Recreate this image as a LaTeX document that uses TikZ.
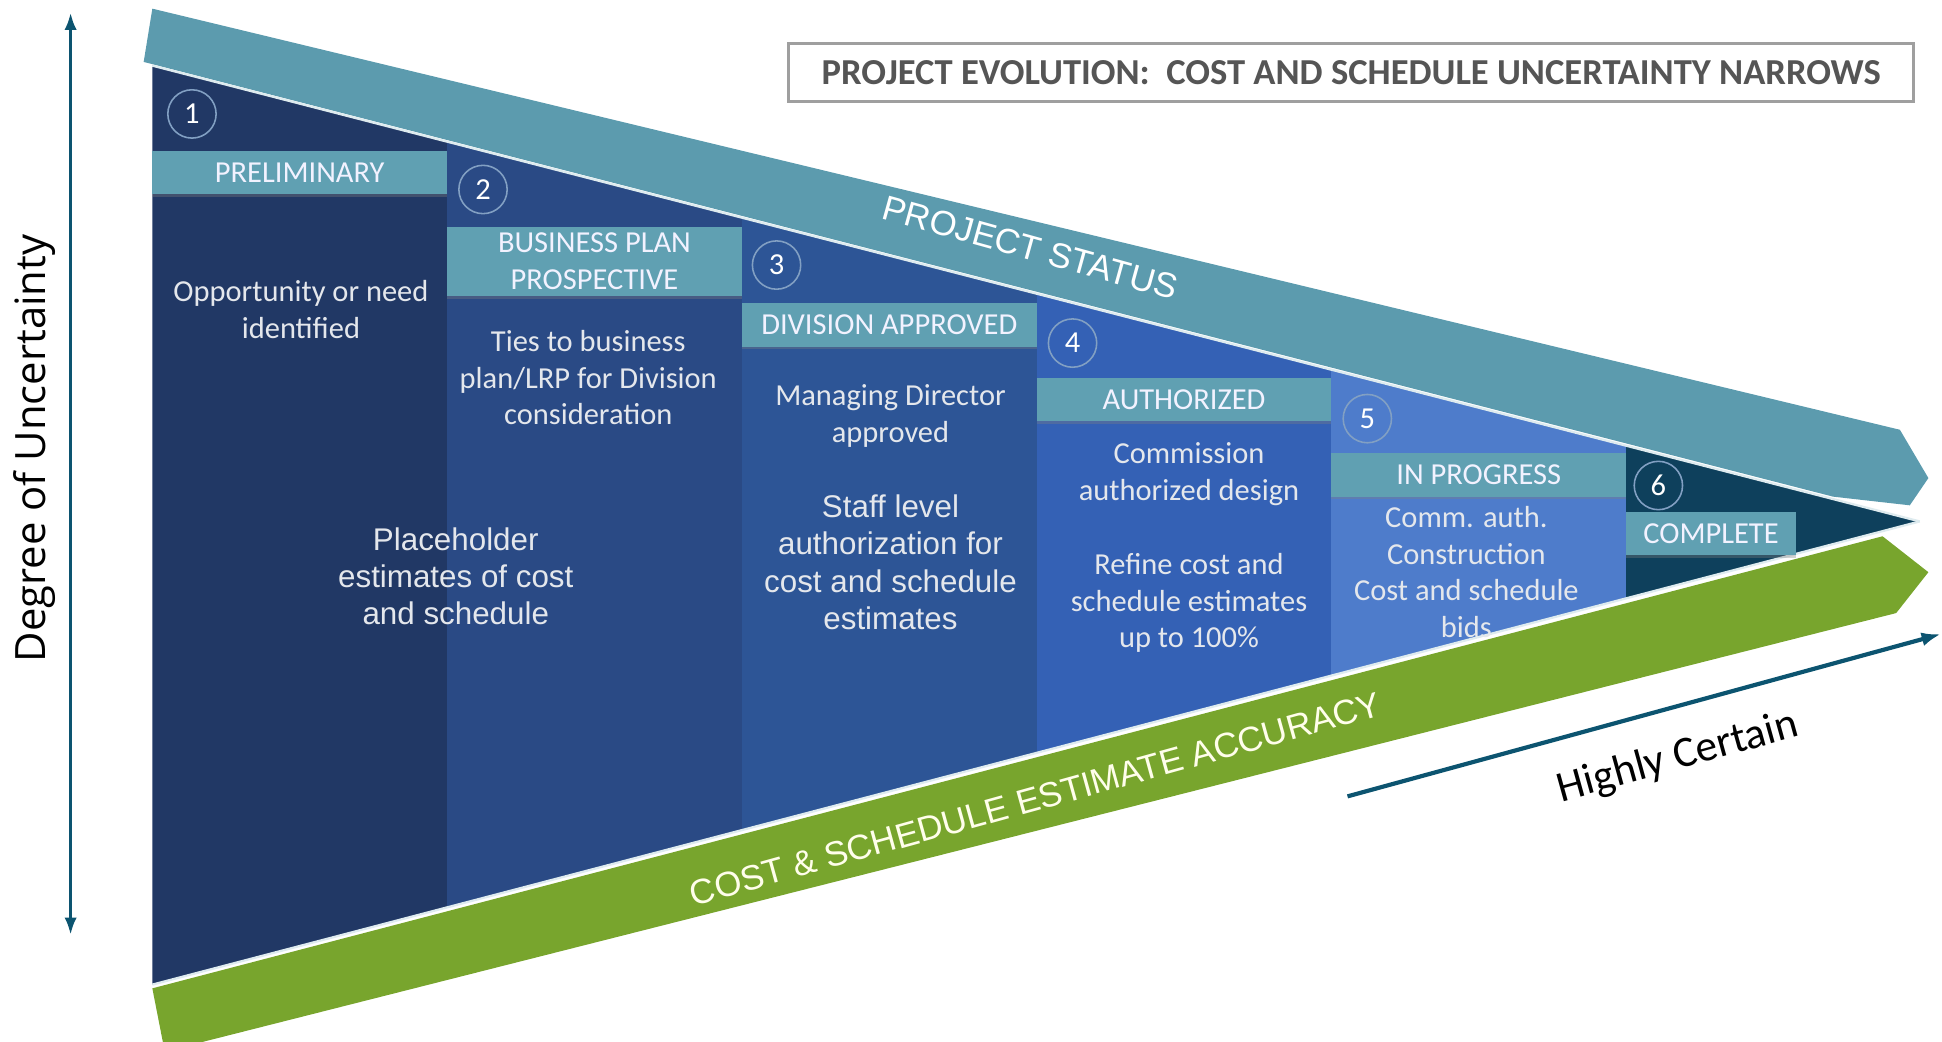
\documentclass[tikz,border=0pt]{standalone}
\usepackage{fontspec}
\setmainfont{Carlito}
\newfontfamily\arialfont{Liberation Sans}
\newfontfamily\axisfont{Open Sans}
\usepackage{tikz}
\usetikzlibrary{positioning,arrows.meta,shadows}

\definecolor{bandteal}{RGB}{92,155,174}
\definecolor{labteal}{RGB}{96,160,178}
\definecolor{bandgreen}{RGB}{120,165,45}
\definecolor{col1}{RGB}{33,56,101}
\definecolor{col2}{RGB}{42,74,133}
\definecolor{col3}{RGB}{45,85,150}
\definecolor{col4}{RGB}{52,97,181}
\definecolor{col5}{RGB}{78,124,203}
\definecolor{col6}{RGB}{14,64,92}
\definecolor{axisblue}{RGB}{12,84,112}
\definecolor{ringblue}{RGB}{130,160,195}
\definecolor{bodygray}{RGB}{228,231,236}
\definecolor{titlegray}{RGB}{85,85,85}

\begin{document}
\begin{tikzpicture}[x=0.025cm,y=-0.025cm,
   stage/.style={fill=labteal,text=white!95!blue,inner sep=0pt,align=center,
     minimum width=5.95cm,minimum height=0.875cm,font=\fontsize{17.5}{21}\selectfont,
     drop shadow={opacity=0.35,shadow xshift=0pt,shadow yshift=-1.5pt}},
   num/.style={circle,draw=ringblue,line width=0.9pt,minimum size=0.975cm,inner sep=0pt,
     text=white,font=\fontsize{17.5}{21}\selectfont},
   body/.style={text=bodygray,align=center,font=\fontsize{17.5}{21}\selectfont},
   bodyA/.style={text=bodygray,align=center,font=\arialfont\fontsize{18}{21.3}\selectfont},
   band/.style={font=\arialfont\fontsize{20}{24}\selectfont},
   edge/.style={draw=white!80!bandteal,line width=1.3pt},
   axis/.style={draw=axisblue,line width=2pt}]

 \useasboundingbox (0,0) rectangle (1568,841);
 \clip (0,0) rectangle (1568,841);

 % status band on top, accuracy band below
 \fill[bandteal] (123,7) -- (1534,347) -- (1557,386) -- (1542,408) -- (1480,401) -- (116,50) -- cycle;
 \fill[bandgreen] (123,798) -- (1520,433) -- (1557,462) -- (1531,495) -- (133,849) -- cycle;

 % the six stage columns
 \begin{scope}
  \clip (123,53) -- (1550,421) -- (123,795) -- cycle;
  \foreach \c [count=\i] in {col1,col2,col3,col4,col5,col6}
   \fill[\c] ({123+238*(\i-1)},0) rectangle ({123+238*\i},841);
 \end{scope}
 \draw[edge] (123,53) -- (1550,421);
 \draw[edge] (123,795) -- (1550,421);

 \node[band,text=white,rotate=-15.5] (status) at (832,200) {PROJECT STATUS};
 \node[band,text=white!92!yellow,rotate=15.5] (accuracy) at (836,645) {COST \& SCHEDULE ESTIMATE ACCURACY};

 \node[stage] (lab1) at (242,139.5) {PRELIMINARY};
 \node[stage,minimum height=1.4cm] (lab2) at (480,211) {BUSINESS PLAN\\PROSPECTIVE};
 \node[stage] (lab3) at (718,262.5) {DIVISION APPROVED};
 \node[stage] (lab4) at (956,322.5) {AUTHORIZED};
 \node[stage] (lab5) at (1194,383.5) {IN PROGRESS};
 \node[stage,minimum width=3.425cm] (lab6) at (1381.5,431) {COMPLETE};

 \foreach \x/\y [count=\i] in {155/92,390/153,627/214,866/277,1104/338,1339/392}
  \node[num] (num\i) at (\x,\y) {\i};

 \node[body] (txt1) at (243,250) {Opportunity or need\\identified};
 \node[body] (txt2) at (475,305) {Ties to business\\plan/LRP for Division\\consideration};
 \node[bodyA] (hold) at (368,465) {Placeholder\\estimates of cost\\and schedule};
 \node[body] (txt3) at (719,336) {Managing Director\\approved};
 \node[bodyA] (staff) at (719,454) {Staff level\\authorization for\\cost and schedule\\estimates};
 \node[body] (txt4) at (960,383) {Commission\\authorized design};
 \node[body] (refine) at (960,487) {Refine cost and\\schedule estimates\\up to 100\%};
 \node[body] (txt5) at (1184,462) {Comm. auth.\\Construction\\Cost and schedule\\bids};

 \node[draw=gray!75,line width=1.6pt,fill=white,minimum width=22.7cm,minimum height=1.175cm,
   text=titlegray,font=\bfseries\fontsize{21}{25}\selectfont] (title) at (1091,58.5)
   {PROJECT EVOLUTION:\ \ COST AND SCHEDULE UNCERTAINTY NARROWS};

 % uncertainty axis
 \coordinate (dtop) at (57,10);
 \coordinate (dbot) at (57,755);
 \draw[axis,{Latex[length=10pt,width=7pt]}-{Latex[length=10pt,width=7pt]}] (dtop) -- (dbot);
 \node[rotate=90,font=\axisfont\fontsize{24}{28}\selectfont] (unc) at (28,362) {Degree of Uncertainty};

 \coordinate (hc0) at (1088,643);
 \coordinate (hc1) at (1567,512);
 \draw[axis,line width=2.4pt,-{Latex[length=11pt,width=8pt]}] (hc0) -- (hc1);
 \node[rotate=15.5,font=\fontsize{25}{30}\selectfont] (certain) at (1355,612) {Highly Certain};

\end{tikzpicture}
\end{document}
